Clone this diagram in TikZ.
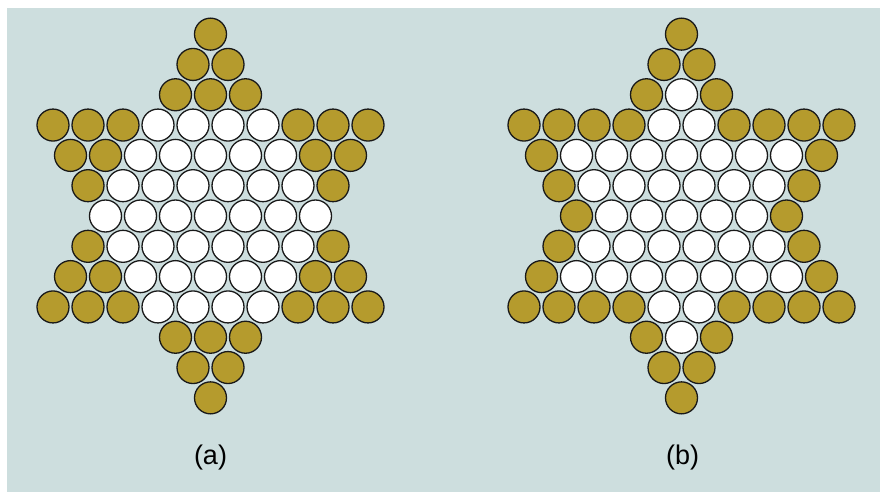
\documentclass[tikz,border=0pt]{standalone}
\usepackage{fontspec}
\setmainfont{Liberation Sans}
\definecolor{bgcol}{RGB}{205,222,222}
\definecolor{goldcol}{RGB}{181,155,45}
\definecolor{edgecol}{RGB}{25,25,25}
\begin{document}
\begin{tikzpicture}[x=1pt,y=-1pt,
  dotbase/.style={circle,draw=edgecol,line width=1.3pt,minimum size=32pt,inner sep=0pt,outer sep=0pt},
  dotG/.style={dotbase,fill=goldcol},
  dotW/.style={dotbase,fill=white},
  caption/.style={font=\fontsize{27}{32}\selectfont,inner sep=0pt}]
\useasboundingbox (0,0) rectangle (880,492);
\fill[white] (-5,-5) rectangle (885,497);
\fill[bgcol] (7,8) rectangle (885,497);
% panel (a)
\foreach \r/\n/\lst in {
  -6/1/{G}, -5/2/{G,G}, -4/3/{G,G,G},
  -3/10/{G,G,G,W,W,W,W,G,G,G},
  -2/9/{G,G,W,W,W,W,W,G,G},
  -1/8/{G,W,W,W,W,W,W,G},
  0/7/{W,W,W,W,W,W,W},
  1/8/{G,W,W,W,W,W,W,G},
  2/9/{G,G,W,W,W,W,W,G,G},
  3/10/{G,G,G,W,W,W,W,G,G,G},
  4/3/{G,G,G}, 5/2/{G,G}, 6/1/{G}}{
  \foreach \c [count=\i] in \lst {
    \node[dot\c] (a\r-\i) at ({210.5+(\i-(\n+1)/2)*35},{216+\r*30.31}) {};
  }
}
% panel (b)
\foreach \r/\n/\lst in {
  -6/1/{G}, -5/2/{G,G}, -4/3/{G,W,G},
  -3/10/{G,G,G,G,W,W,G,G,G,G},
  -2/9/{G,W,W,W,W,W,W,W,G},
  -1/8/{G,W,W,W,W,W,W,G},
  0/7/{G,W,W,W,W,W,G},
  1/8/{G,W,W,W,W,W,W,G},
  2/9/{G,W,W,W,W,W,W,W,G},
  3/10/{G,G,G,G,W,W,G,G,G,G},
  4/3/{G,W,G}, 5/2/{G,G}, 6/1/{G}}{
  \foreach \c [count=\i] in \lst {
    \node[dot\c] (b\r-\i) at ({681.5+(\i-(\n+1)/2)*35},{216+\r*30.31}) {};
  }
}
\node[caption] (capa) at (210.5,458) {(a)};
\node[caption] (capb) at (682.5,458) {(b)};
\end{tikzpicture}
\end{document}
